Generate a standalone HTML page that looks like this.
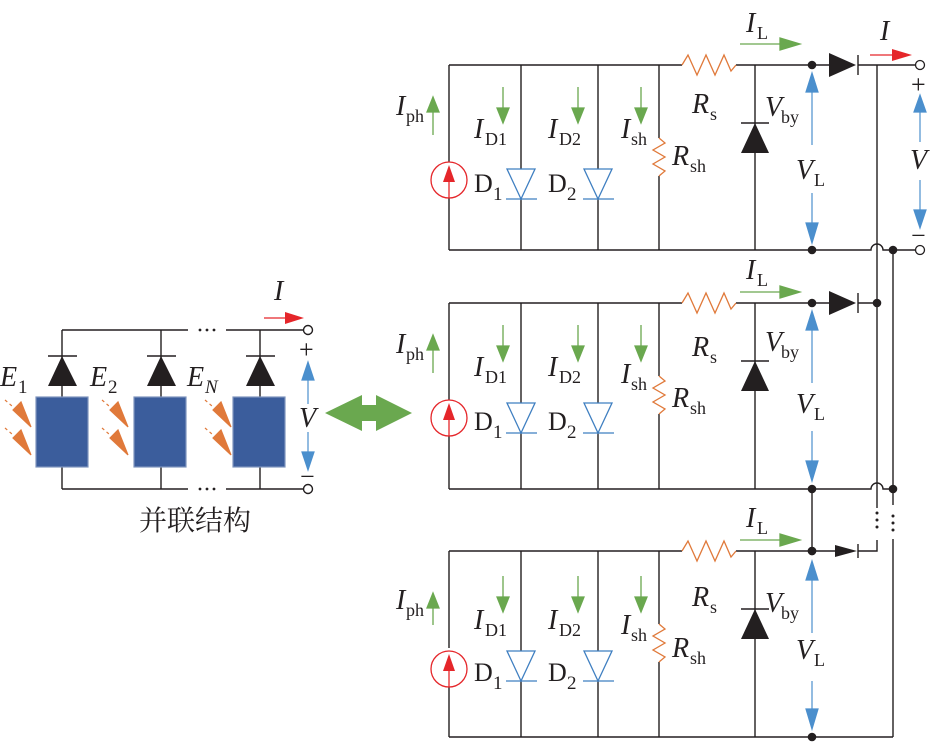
<!DOCTYPE html>
<html><head><meta charset="utf-8"><style>
html,body{margin:0;padding:0;background:#fff;}
svg{display:block;}
text{font-family:"Liberation Serif",serif;fill:#231f20;}
.i{font-style:italic;}
</style></head><body>
<svg width="930" height="742" viewBox="0 0 930 742" xmlns="http://www.w3.org/2000/svg">

<!-- ================= LEFT PARALLEL STRUCTURE ================= -->
<g stroke="#231f20" stroke-width="1.4" fill="none">
  <path d="M62,330 H188 M226,330 H304"/>
  <path d="M62,489 H188 M226,489 H304"/>
  <path d="M62,330 V397 M62,467 V489"/>
  <path d="M161,330 V397 M161,467 V489"/>
  <path d="M260,330 V397 M260,467 V489"/>
  <path d="M48,356 H77 M147,356 H176 M246,356 H275"/>
  <circle cx="308" cy="330" r="4.5" fill="#fff"/>
  <circle cx="308" cy="489" r="4.5" fill="#fff"/>
</g>
<g fill="#231f20">
  <polygon points="62,356 48,386 77,386"/>
  <polygon points="161,356 147,386 176,386"/>
  <polygon points="260,356 246,386 275,386"/>
  <circle cx="200" cy="330" r="1.4"/><circle cx="207" cy="330" r="1.4"/><circle cx="214" cy="330" r="1.4"/>
  <circle cx="200" cy="489" r="1.4"/><circle cx="207" cy="489" r="1.4"/><circle cx="214" cy="489" r="1.4"/>
</g>
<g fill="#3b5d9c" stroke="#7f95bd" stroke-width="1.2">
  <rect x="36" y="397" width="52" height="70"/>
  <rect x="134" y="397" width="52" height="70"/>
  <rect x="233" y="397" width="52" height="70"/>
</g>
<g stroke="#e0793a" stroke-width="1.2" fill="#e0793a">
  <g>
  <line x1="5" y1="400" x2="12" y2="406" stroke-dasharray="3,3"/>
  <polygon points="13,410 21,402 31,427"/>
  <line x1="5" y1="428" x2="12" y2="434" stroke-dasharray="3,3"/>
  <polygon points="13,438 21,430 31,455"/>
  </g>
  <g transform="translate(97,0)">
  <line x1="5" y1="400" x2="12" y2="406" stroke-dasharray="3,3"/>
  <polygon points="13,410 21,402 31,427"/>
  <line x1="5" y1="428" x2="12" y2="434" stroke-dasharray="3,3"/>
  <polygon points="13,438 21,430 31,455"/>
  </g>
  <g transform="translate(200,0)">
  <line x1="5" y1="400" x2="12" y2="406" stroke-dasharray="3,3"/>
  <polygon points="13,410 21,402 31,427"/>
  <line x1="5" y1="428" x2="12" y2="434" stroke-dasharray="3,3"/>
  <polygon points="13,438 21,430 31,455"/>
  </g>
</g>
<text x="0" y="386" font-size="28" class="i">E</text><text x="18" y="393" font-size="19">1</text>
<text x="90" y="386" font-size="28" class="i">E</text><text x="108" y="393" font-size="19">2</text>
<text x="187" y="386" font-size="28" class="i">E</text><text x="205" y="393" font-size="19" class="i">N</text>
<text x="274" y="300" font-size="28" class="i">I</text>
<line x1="264" y1="318" x2="290" y2="318" stroke="#e5262a" stroke-width="1.3"/>
<polygon points="285,312 304,318 285,324" fill="#e5262a"/>
<text x="299" y="358" font-size="26">+</text>
<text x="300" y="485" font-size="26">−</text>
<text x="299" y="427" font-size="28" class="i">V</text>
<g stroke="#4b8fcd" stroke-width="1.2" fill="#4b8fcd">
  <line x1="308" y1="380" x2="308" y2="404"/>
  <polygon points="302,380 308,362 314,380"/>
  <line x1="308" y1="432" x2="308" y2="452"/>
  <polygon points="302,452 308,470 314,452"/>
</g>
<text x="195" y="530" font-size="28" text-anchor="middle" style="font-family:'Liberation Serif','Noto Serif CJK SC',serif">并联结构</text>
<polygon points="325,413 362,395 362,405 376,405 376,395 412,413 376,431 376,421 362,421 362,431" fill="#6aa84f"/>

<!-- Block 1 -->
<g transform="translate(0,65)">
<g stroke="#231f20" stroke-width="1.4" fill="none">
  <path d="M449,0 H682 M736,0 H812 M449,185 H812"/>
  <path d="M449,0 V97 M449,133 V185"/>
  <path d="M521,0 V185 M598,0 V185"/>
  <path d="M659,0 V73 M659,111 V185"/>
  <path d="M755,0 V185"/>
  <path d="M741,58 H769"/>
</g>
<path d="M682,0 L688,-10 L697,10 L706,-10 L715,10 L724,-10 L731,6 L736,0" stroke="#e0793a" stroke-width="1.3" fill="none"/>
<path d="M659,73 L665,78 L653,85 L665,92 L653,99 L665,106 L659,111" stroke="#e0793a" stroke-width="1.3" fill="none"/>
<polygon points="755,58 741,88 769,88" fill="#231f20"/>
<g stroke="#3f7fc1" stroke-width="1.3" fill="#fff">
  <polygon points="507,104 535,104 521,134"/><line x1="506" y1="134" x2="537" y2="134"/>
  <polygon points="584,104 612,104 598,134"/><line x1="583" y1="134" x2="614" y2="134"/>
</g>
<circle cx="449" cy="115" r="18" stroke="#e5262a" stroke-width="1.3" fill="#fff"/>
<line x1="449" y1="104" x2="449" y2="133" stroke="#e5262a" stroke-width="1.3"/>
<polygon points="443,117 449,100 455,117" fill="#e5262a"/>
<g fill="#231f20"><circle cx="812" cy="0" r="4.3"/><circle cx="812" cy="185" r="4.3"/></g>
<g stroke="#6aa84f" stroke-width="1.3" fill="#6aa84f">
  <line x1="433" y1="45" x2="433" y2="70"/><polygon points="427,47 433,32 439,47"/>
  <line x1="503" y1="22" x2="503" y2="45"/><polygon points="497,43 503,58 509,43"/>
  <line x1="578" y1="22" x2="578" y2="45"/><polygon points="572,43 578,58 584,43"/>
  <line x1="641" y1="22" x2="641" y2="45"/><polygon points="635,43 641,58 647,43"/>
  <line x1="740" y1="-21" x2="785" y2="-21"/><polygon points="780,-27 800,-21 780,-15"/>
</g>
<g stroke="#4b8fcd" stroke-width="1.2" fill="#4b8fcd">
  <line x1="812" y1="25" x2="812" y2="80"/><polygon points="806,27 812,8 818,27"/>
  <line x1="812" y1="128" x2="812" y2="160"/><polygon points="806,158 812,178 818,158"/>
</g>
<text x="396" y="50" font-size="28" class="i">I</text><text x="406" y="57" font-size="18">ph</text>
<text x="474" y="73" font-size="28" class="i">I</text><text x="485" y="80" font-size="18">D1</text>
<text x="548" y="73" font-size="28" class="i">I</text><text x="559" y="80" font-size="18">D2</text>
<text x="621" y="73" font-size="28" class="i">I</text><text x="631" y="80" font-size="18">sh</text>
<text x="672" y="100" font-size="28" class="i">R</text><text x="690" y="107" font-size="18">sh</text>
<text x="474" y="127" font-size="26">D</text><text x="493" y="135" font-size="19">1</text>
<text x="548" y="127" font-size="26">D</text><text x="567" y="135" font-size="19">2</text>
<text x="692" y="48" font-size="28" class="i">R</text><text x="710" y="55" font-size="18">s</text>
<text x="765" y="51" font-size="28" class="i">V</text><text x="781" y="58" font-size="18">by</text>
<text x="796" y="114" font-size="28" class="i">V</text><text x="814" y="121" font-size="18">L</text>
<text x="746" y="-33" font-size="28" class="i">I</text><text x="757" y="-26" font-size="18">L</text>
</g>

<!-- Block 2 -->
<g transform="translate(0,303)">
<g stroke="#231f20" stroke-width="1.4" fill="none">
  <path d="M449,0 H682 M736,0 H812 M449,186 H812"/>
  <path d="M449,0 V97 M449,133 V186"/>
  <path d="M521,0 V186 M598,0 V186"/>
  <path d="M659,0 V73 M659,111 V186"/>
  <path d="M755,0 V186"/>
  <path d="M741,58 H769"/>
</g>
<path d="M682,0 L688,-10 L697,10 L706,-10 L715,10 L724,-10 L731,6 L736,0" stroke="#e0793a" stroke-width="1.3" fill="none"/>
<path d="M659,73 L665,78 L653,85 L665,92 L653,99 L665,106 L659,111" stroke="#e0793a" stroke-width="1.3" fill="none"/>
<polygon points="755,58 741,88 769,88" fill="#231f20"/>
<g stroke="#3f7fc1" stroke-width="1.3" fill="#fff">
  <polygon points="507,100 535,100 521,130"/><line x1="506" y1="130" x2="537" y2="130"/>
  <polygon points="584,100 612,100 598,130"/><line x1="583" y1="130" x2="614" y2="130"/>
</g>
<circle cx="449" cy="115" r="18" stroke="#e5262a" stroke-width="1.3" fill="#fff"/>
<line x1="449" y1="104" x2="449" y2="133" stroke="#e5262a" stroke-width="1.3"/>
<polygon points="443,117 449,100 455,117" fill="#e5262a"/>
<g fill="#231f20"><circle cx="812" cy="0" r="4.3"/><circle cx="812" cy="186" r="4.3"/></g>
<g stroke="#6aa84f" stroke-width="1.3" fill="#6aa84f">
  <line x1="433" y1="45" x2="433" y2="70"/><polygon points="427,47 433,32 439,47"/>
  <line x1="503" y1="22" x2="503" y2="45"/><polygon points="497,43 503,58 509,43"/>
  <line x1="578" y1="22" x2="578" y2="45"/><polygon points="572,43 578,58 584,43"/>
  <line x1="641" y1="22" x2="641" y2="45"/><polygon points="635,43 641,58 647,43"/>
  <line x1="740" y1="-11" x2="785" y2="-11"/><polygon points="780,-17 800,-11 780,-5"/>
</g>
<g stroke="#4b8fcd" stroke-width="1.2" fill="#4b8fcd">
  <line x1="812" y1="25" x2="812" y2="80"/><polygon points="806,27 812,8 818,27"/>
  <line x1="812" y1="128" x2="812" y2="160"/><polygon points="806,158 812,178 818,158"/>
</g>
<text x="396" y="50" font-size="28" class="i">I</text><text x="406" y="57" font-size="18">ph</text>
<text x="474" y="73" font-size="28" class="i">I</text><text x="485" y="80" font-size="18">D1</text>
<text x="548" y="73" font-size="28" class="i">I</text><text x="559" y="80" font-size="18">D2</text>
<text x="621" y="80" font-size="28" class="i">I</text><text x="631" y="87" font-size="18">sh</text>
<text x="672" y="104" font-size="28" class="i">R</text><text x="690" y="111" font-size="18">sh</text>
<text x="474" y="127" font-size="26">D</text><text x="493" y="135" font-size="19">1</text>
<text x="548" y="127" font-size="26">D</text><text x="567" y="135" font-size="19">2</text>
<text x="692" y="53" font-size="28" class="i">R</text><text x="710" y="60" font-size="18">s</text>
<text x="765" y="48" font-size="28" class="i">V</text><text x="781" y="55" font-size="18">by</text>
<text x="796" y="110" font-size="28" class="i">V</text><text x="814" y="117" font-size="18">L</text>
<text x="746" y="-24" font-size="28" class="i">I</text><text x="757" y="-17" font-size="18">L</text>
</g>

<!-- Block 3 -->
<g transform="translate(0,551)">
<g stroke="#231f20" stroke-width="1.4" fill="none">
  <path d="M449,0 H682 M736,0 H812 M449,186 H893"/>
  <path d="M449,0 V97 M449,133 V186"/>
  <path d="M521,0 V186 M598,0 V186"/>
  <path d="M659,0 V73 M659,111 V186"/>
  <path d="M755,0 V186"/>
  <path d="M741,58 H769"/>
</g>
<path d="M682,0 L688,-10 L697,10 L706,-10 L715,10 L724,-10 L731,6 L736,0" stroke="#e0793a" stroke-width="1.3" fill="none"/>
<path d="M659,73 L665,78 L653,85 L665,92 L653,99 L665,106 L659,111" stroke="#e0793a" stroke-width="1.3" fill="none"/>
<polygon points="755,58 741,88 769,88" fill="#231f20"/>
<g stroke="#3f7fc1" stroke-width="1.3" fill="#fff">
  <polygon points="507,100 535,100 521,130"/><line x1="506" y1="130" x2="537" y2="130"/>
  <polygon points="584,100 612,100 598,130"/><line x1="583" y1="130" x2="614" y2="130"/>
</g>
<circle cx="449" cy="118" r="18" stroke="#e5262a" stroke-width="1.3" fill="#fff"/>
<line x1="449" y1="107" x2="449" y2="136" stroke="#e5262a" stroke-width="1.3"/>
<polygon points="443,120 449,103 455,120" fill="#e5262a"/>
<g fill="#231f20"><circle cx="812" cy="0" r="4.3"/><circle cx="812" cy="186" r="4.3"/></g>
<g stroke="#6aa84f" stroke-width="1.3" fill="#6aa84f">
  <line x1="433" y1="55" x2="433" y2="74"/><polygon points="427,57 433,42 439,57"/>
  <line x1="503" y1="25" x2="503" y2="48"/><polygon points="497,46 503,61 509,46"/>
  <line x1="578" y1="25" x2="578" y2="48"/><polygon points="572,46 578,61 584,46"/>
  <line x1="641" y1="25" x2="641" y2="48"/><polygon points="635,46 641,61 647,46"/>
  <line x1="740" y1="-11" x2="785" y2="-11"/><polygon points="780,-17 800,-11 780,-5"/>
</g>
<g stroke="#4b8fcd" stroke-width="1.2" fill="#4b8fcd">
  <line x1="812" y1="27" x2="812" y2="82"/><polygon points="806,29 812,10 818,29"/>
  <line x1="812" y1="130" x2="812" y2="160"/><polygon points="806,158 812,178 818,158"/>
</g>
<text x="396" y="58" font-size="28" class="i">I</text><text x="406" y="65" font-size="18">ph</text>
<text x="474" y="78" font-size="28" class="i">I</text><text x="485" y="85" font-size="18">D1</text>
<text x="548" y="78" font-size="28" class="i">I</text><text x="559" y="85" font-size="18">D2</text>
<text x="621" y="83" font-size="28" class="i">I</text><text x="631" y="90" font-size="18">sh</text>
<text x="672" y="106" font-size="28" class="i">R</text><text x="690" y="113" font-size="18">sh</text>
<text x="474" y="130" font-size="26">D</text><text x="493" y="138" font-size="19">1</text>
<text x="548" y="130" font-size="26">D</text><text x="567" y="138" font-size="19">2</text>
<text x="692" y="55" font-size="28" class="i">R</text><text x="710" y="62" font-size="18">s</text>
<text x="765" y="61" font-size="28" class="i">V</text><text x="781" y="68" font-size="18">by</text>
<text x="796" y="108" font-size="28" class="i">V</text><text x="814" y="115" font-size="18">L</text>
<text x="746" y="-24" font-size="28" class="i">I</text><text x="757" y="-17" font-size="18">L</text>
</g>

<!-- ================= RIGHT-SIDE WIRING ================= -->
<g stroke="#231f20" stroke-width="1.4" fill="none">
  <path d="M812,65 H829 M858,65 H916"/>
  <path d="M858,55 V75"/>
  <path d="M812,250 H871 A6,6 0 0 1 883,250 H916"/>
  <path d="M812,303 H829 M858,303 H877"/>
  <path d="M858,293 V313"/>
  <path d="M812,489 H871 A6,6 0 0 1 883,489 H893"/>
  <path d="M812,489 V551"/>
  <path d="M812,551 H835 M858,551 H877 V540"/>
  <path d="M858,544 V558"/>
  <path d="M877,65 V508"/>
  <path d="M893,250 V505 M893,539 V737"/>
</g>
<g fill="#231f20">
  <polygon points="829,53 829,77 856,65"/>
  <polygon points="829,291 829,315 856,303"/>
  <polygon points="835,545 835,557 857,551"/>
  <circle cx="893" cy="250" r="4.3"/>
  <circle cx="877" cy="303" r="4.3"/>
  <circle cx="893" cy="489" r="4.3"/>
  <circle cx="812" cy="551" r="4.3"/>
  <circle cx="877" cy="513" r="1.5"/><circle cx="877" cy="520" r="1.5"/><circle cx="877" cy="527" r="1.5"/>
  <circle cx="893" cy="516" r="1.5"/><circle cx="893" cy="523" r="1.5"/><circle cx="893" cy="530" r="1.5"/>
</g>
<circle cx="920" cy="65" r="4.5" stroke="#231f20" stroke-width="1.3" fill="#fff"/>
<circle cx="920" cy="250" r="4.5" stroke="#231f20" stroke-width="1.3" fill="#fff"/>
<text x="880" y="40" font-size="28" class="i">I</text>
<line x1="870" y1="55" x2="895" y2="55" stroke="#e5262a" stroke-width="1.3"/>
<polygon points="892,49 912,55 892,61" fill="#e5262a"/>
<text x="911" y="93" font-size="26">+</text>
<text x="910" y="169" font-size="28" class="i">V</text>
<text x="911" y="244" font-size="26">−</text>
<g stroke="#4b8fcd" stroke-width="1.2" fill="#4b8fcd">
  <line x1="920" y1="110" x2="920" y2="142"/><polygon points="914,112 920,95 926,112"/>
  <line x1="920" y1="180" x2="920" y2="212"/><polygon points="914,210 920,228 926,210"/>
</g>
</svg>
</body></html>
